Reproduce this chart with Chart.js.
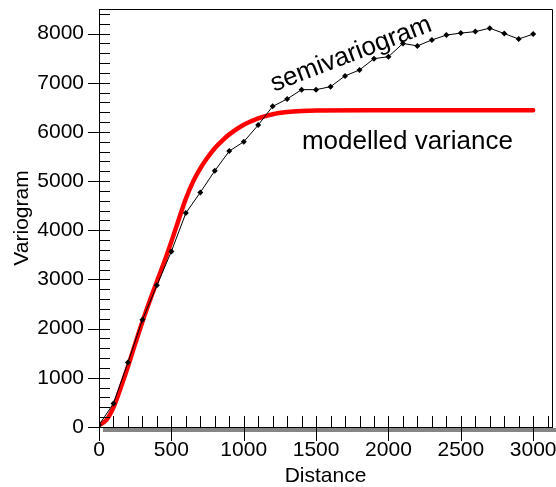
<!DOCTYPE html>
<html>
<head>
<meta charset="utf-8">
<script src="https://cdn.jsdelivr.net/npm/chart.js@4.4.0/dist/chart.umd.min.js"></script>
<style>
  html, body { margin: 0; padding: 0; background: #fff; }
  #wrap { width: 556px; height: 487px; }
</style>
</head>
<body>
<div id="wrap"><canvas id="chart" width="556" height="487"></canvas></div>
<script>
// experimental semivariogram, one point per 100 distance units
const semiDistance = [0, 100, 200, 300, 400, 500, 600, 700, 800, 900, 1000, 1100, 1200, 1300, 1400, 1500,
  1600, 1700, 1800, 1900, 2000, 2100, 2200, 2300, 2400, 2500, 2600, 2700, 2800, 2900, 3000];
const semiVariance = [40, 480, 1310, 2180, 2880, 3570, 4350, 4770, 5210, 5610, 5800, 6140, 6520, 6670, 6860, 6860,
  6920, 7140, 7260, 7490, 7530, 7800, 7750, 7870, 7970, 8010, 8040, 8110, 8000, 7890, 7990];

// fitted model
const modelDistance = [0, 50, 100, 150, 200, 250, 300, 350, 400, 450, 500, 550, 600, 650, 700, 750, 800, 850,
  900, 1000, 1100, 1200, 1300, 1400, 1500, 2000, 2500, 3000];
const modelVariance = [40, 140, 400, 800, 1230, 1690, 2140, 2560, 2960, 3350, 3770, 4210, 4640, 4990, 5260, 5480,
  5670, 5820, 5950, 6145, 6275, 6360, 6405, 6428, 6437, 6440, 6440, 6440];

const xTitle = 'Distance';
const yTitle = 'Variogram';
const xTicks = [0, 500, 1000, 1500, 2000, 2500, 3000];
const yTicks = [0, 1000, 2000, 3000, 4000, 5000, 6000, 7000, 8000];
const xMax = 3130, yMax = 8500;
const xMinor = 100, yMinor = 200;

// text labels placed in data units: [text, distance, value, angle in degrees, align]
const notes = [
  ['semivariogram', 1760, 7440, -21, 'center'],
  ['modelled variance', 1402, 5645, 0, 'left']
];

const FONT = "'Liberation Sans', Arial, sans-serif";

const pairs = (xs, ys) => xs.map((x, i) => ({ x, y: ys[i] }));

const frame = {
  id: 'frame',
  afterDatasetsDraw(chart) {
    const { ctx, chartArea: a, scales: { x, y } } = chart;
    ctx.save();
    // grey shadow under the x axis
    ctx.fillStyle = '#858585';
    ctx.fillRect(a.left + 4, a.bottom + 1, chart.width - a.left - 4, 4);

    ctx.strokeStyle = '#000';
    ctx.lineWidth = 1;
    ctx.beginPath();
    ctx.moveTo(a.left + 0.5, a.top + 0.5);
    ctx.lineTo(a.right + 0.5, a.top + 0.5);
    ctx.lineTo(a.right + 0.5, a.bottom + 0.5);
    ctx.moveTo(a.left + 0.5, a.top);
    ctx.lineTo(a.left + 0.5, a.bottom + 13);
    ctx.moveTo(a.left - 11, a.bottom + 0.5);
    ctx.lineTo(a.right + 1, a.bottom + 0.5);

    for (let v = 0; v <= x.max; v += xMinor) {
      const px = Math.round(x.getPixelForValue(v)) + 0.5;
      const major = xTicks.includes(v);
      ctx.moveTo(px, a.bottom - 11);
      ctx.lineTo(px, a.bottom + (major ? 14 : 0));
    }
    for (let v = 0; v <= y.max; v += yMinor) {
      const py = Math.round(y.getPixelForValue(v)) + 0.5;
      const major = yTicks.includes(v);
      ctx.moveTo(a.left - (major ? 11 : 0), py);
      ctx.lineTo(a.left + 11, py);
    }
    ctx.stroke();

    ctx.fillStyle = '#000';
    ctx.font = '26px ' + FONT;
    ctx.textBaseline = 'alphabetic';
    notes.forEach(([text, dx, dy, deg, align]) => {
      ctx.save();
      ctx.translate(x.getPixelForValue(dx), y.getPixelForValue(dy));
      ctx.rotate(deg * Math.PI / 180);
      ctx.textAlign = align;
      ctx.fillText(text, 0, 0);
      ctx.restore();
    });
    ctx.restore();
  }
};

const tickFont = { family: FONT, size: 21 };

new Chart(document.getElementById('chart'), {
  type: 'line',
  data: {
    datasets: [
      {
        label: 'semivariogram',
        data: pairs(semiDistance, semiVariance),
        borderColor: '#000',
        backgroundColor: '#000',
        borderWidth: 1,
        pointStyle: 'rectRot',
        pointRadius: 3,
        pointBorderWidth: 0,
        tension: 0
      },
      {
        label: 'modelled variance',
        data: pairs(modelDistance, modelVariance),
        borderColor: '#ff0000',
        borderWidth: 4.5,
        borderCapStyle: 'round',
        borderJoinStyle: 'round',
        pointRadius: 0,
        cubicInterpolationMode: 'monotone'
      }
    ]
  },
  options: {
    responsive: false,
    animation: false,
    layout: { padding: { top: 9, right: 3, left: 0, bottom: 0 } },
    plugins: { legend: { display: false }, tooltip: { enabled: false } },
    scales: {
      x: {
        type: 'linear',
        min: 0, max: xMax,
        grid: { display: false, drawTicks: false },
        border: { display: false },
        afterBuildTicks: s => { s.ticks = xTicks.map(value => ({ value })); },
        ticks: { autoSkip: false, maxRotation: 0, minRotation: 0, padding: 11, color: '#000', font: tickFont,
          callback: v => String(v) },
        title: { display: true, text: xTitle, color: '#000', font: tickFont, padding: { top: 0, bottom: -2 } },
        afterFit: s => { s.height = 60; s.paddingLeft = 0; s.paddingRight = 0; }
      },
      y: {
        type: 'linear',
        min: 0, max: yMax,
        grid: { display: false, drawTicks: false },
        border: { display: false },
        afterBuildTicks: s => { s.ticks = yTicks.map(value => ({ value })); },
        ticks: { autoSkip: false, padding: 15, color: '#000', font: tickFont, callback: v => String(v) },
        title: { display: true, text: yTitle, color: '#000', font: tickFont, padding: { top: 10, bottom: 0 } },
        afterFit: s => { s.width = 99; s.paddingTop = 0; s.paddingBottom = 0; }
      }
    }
  },
  plugins: [frame]
});
</script>
</body>
</html>
